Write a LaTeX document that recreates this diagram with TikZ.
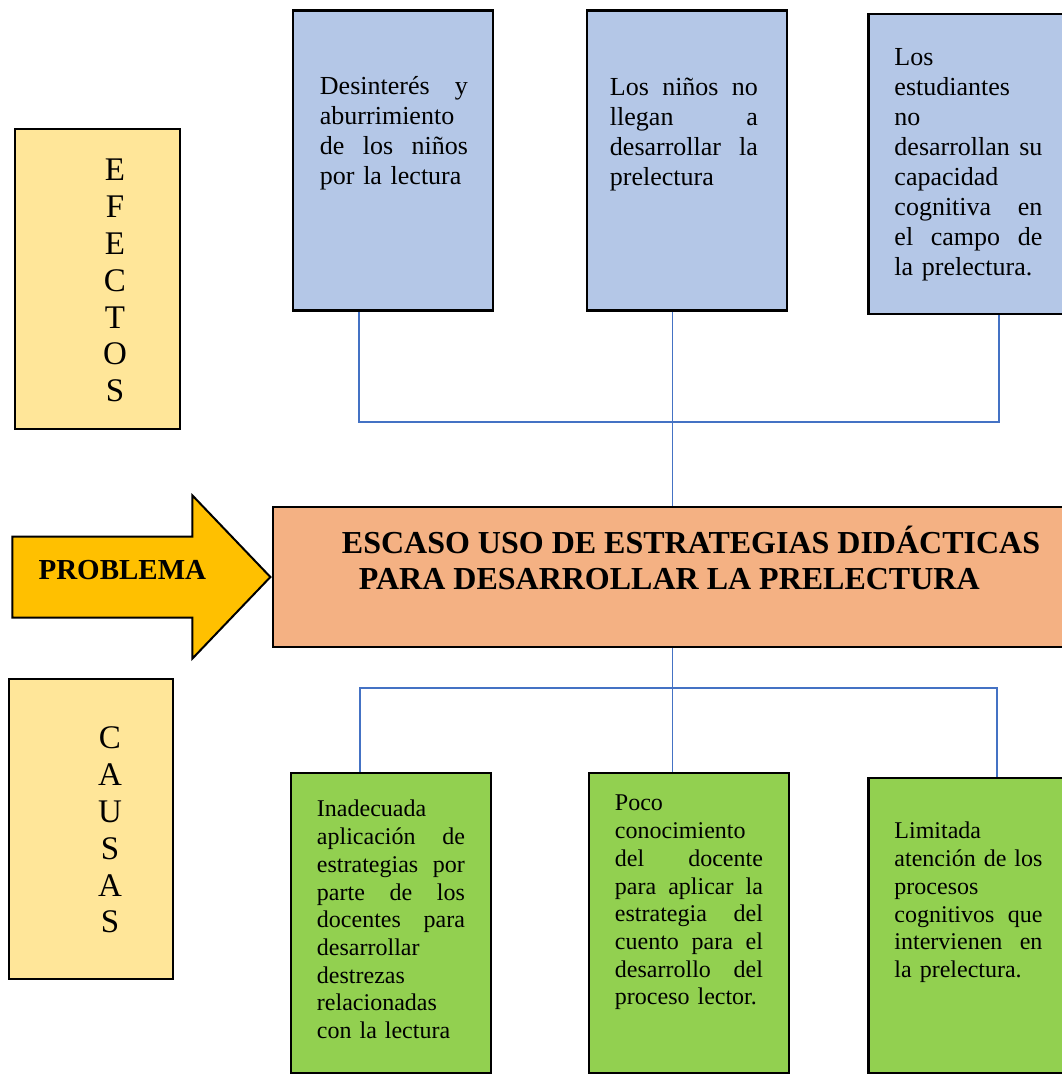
\documentclass[tikz,border=0pt]{standalone}
\usepackage{fontspec}
\setmainfont{Liberation Serif}
\usetikzlibrary{shapes.arrows, positioning}

\definecolor{azul}{HTML}{B4C7E7}
\definecolor{verde}{HTML}{92D050}
\definecolor{naranja}{HTML}{F4B183}
\definecolor{amarillo}{HTML}{FFE699}
\definecolor{oro}{HTML}{FFC000}
\definecolor{linea}{HTML}{4472C4}

\tikzstyle{efecto} = [rectangle, minimum width=200pt, minimum height=300pt, draw=black, line width=2.5pt, fill=azul]
\tikzstyle{causa} = [rectangle, minimum width=200pt, minimum height=300pt, draw=black, line width=2.5pt, fill=verde]
\tikzstyle{problema} = [rectangle, minimum width=800pt, minimum height=140pt, draw=black, line width=2.5pt, fill=naranja]
\tikzstyle{etiqueta} = [rectangle, minimum width=165pt, minimum height=300pt, draw=black, line width=2pt, fill=amarillo]
\tikzstyle{flecha} = [single arrow, minimum width=161pt, minimum height=258pt, single arrow head extend=41pt, single arrow tip angle=92.6, inner xsep=0pt, inner ysep=39.5pt, draw=black, line width=2pt, fill=oro]
\tikzstyle{texto} = [inner sep=0pt, text width=148pt, align=left, font=\fontsize{26}{30}\selectfont]
\tikzstyle{textoc} = [texto, font=\fontsize{24}{27.7}\selectfont]
\tikzstyle{letras} = [inner sep=0pt, align=center, font=\fontsize{33}{36.8}\selectfont]
\tikzstyle{titulo} = [inner sep=0pt, align=left, font=\bfseries\fontsize{32}{36}\selectfont]
\tikzstyle{conector} = [draw=linea, line width=1.2pt]

\begin{document}
\begin{tikzpicture}[x=1pt, y=1pt, node distance=294pt]
\useasboundingbox (0,0) rectangle (1062,-1074);
%%%%% EFECTOS
\node (ef1) [efecto] at (393,-160.5) {};
\node (ef2) [efecto, right of=ef1] {};
\node (ef3) [efecto, right of=ef2, xshift=-12.5pt, yshift=-3.5pt] {};

\node (tef1) [texto, below right=64pt and 28pt of ef1.north west] {\strut Desinterés\hfill y\\ aburrimiento\\ de\hfill los\hfill niños\\ por la lectura};
\node (tef2) [texto, below right=65pt and 24pt of ef2.north west] {\strut Los\hfill niños\hfill no\\ llegan\hfill a\\ desarrollar\hfill la\\ prelectura};
\node (tef3) [texto, below right=31.5pt and 27pt of ef3.north west] {\strut Los\\ estudiantes\\ no\\ desarrollan\hfill su\\ capacidad\\ cognitiva\hfill en\\ el\hfill campo\hfill de\\ la prelectura.};

%%%%% PROBLEMA
\node (pro) [problema] at (673,-577) {};
\node (flecha) [flecha, anchor=tip] at (pro.west) {};
\node (tflecha) [anchor=base west, inner sep=0pt, font=\bfseries\fontsize{29}{33}\selectfont] at ([xshift=27pt, yshift=-2pt]flecha.tail) {PROBLEMA};
\node (tpro) [titulo, below right=19.8pt and 70pt of pro.north west] {\strut ESCASO USO DE ESTRATEGIAS DIDÁCTICAS\\ \hspace*{17pt}PARA DESARROLLAR LA PRELECTURA};

%%%%% CAUSAS
\node (ca1) [causa] at (391,-923) {};
\node (ca2) [causa, right of=ca1, xshift=4pt] {};
\node (ca3) [causa, minimum height=295pt, right of=ca2, xshift=-14.5pt, yshift=-2.5pt] {};

\node (tca1) [textoc, below right=25.6pt and 27pt of ca1.north west] {\strut Inadecuada\\ aplicación\hfill de\\ estrategias\hfill por\\ parte\hfill de\hfill los\\ docentes\hfill para\\ desarrollar\\ destrezas\\ relacionadas\\ con la lectura};
\node (tca2) [textoc, below right=19.6pt and 27pt of ca2.north west] {\strut Poco\\ conocimiento\\ del\hfill docente\\ para\hfill aplicar\hfill la\\ estrategia\hfill del\\ cuento\hfill para\hfill el\\ desarrollo\hfill del\\ proceso lector.};
\node (tca3) [textoc, below right=42.6pt and 27pt of ca3.north west] {\strut Limitada\\ atención\hfill de\hfill los\\ procesos\\ cognitivos\hfill que\\ intervienen\hfill en\\ la prelectura.};

%%%%% ETIQUETAS
\node (lblEf) [etiqueta] at (97.5,-279) {};
\node (lblCa) [etiqueta, minimum width=164pt] at (91,-829) {};
\node (tEf) [letras, below=27pt of lblEf.north, xshift=17.5pt] {\strut E\\F\\E\\C\\T\\O\\S};
\node (tCa) [letras, below=45pt of lblCa.north, xshift=19pt] {\strut C\\A\\U\\S\\A\\S};

%%%%% CONECTORES
\coordinate (jtop) at (672.5,-422);
\coordinate (jbot) at (672.5,-688);
\draw [conector] ([xshift=-34pt]ef1.south) |- (jtop) -| ([xshift=30.5pt]ef3.south);
\draw [conector] (ef2.south -| jtop) -- (pro.north -| jtop);
\draw [conector] (pro.south -| jbot) -- (ca2.north -| jbot);
\draw [conector] ([xshift=-31pt]ca1.north) |- (jbot) -| ([xshift=28.5pt]ca3.north);
\end{tikzpicture}
\end{document}
